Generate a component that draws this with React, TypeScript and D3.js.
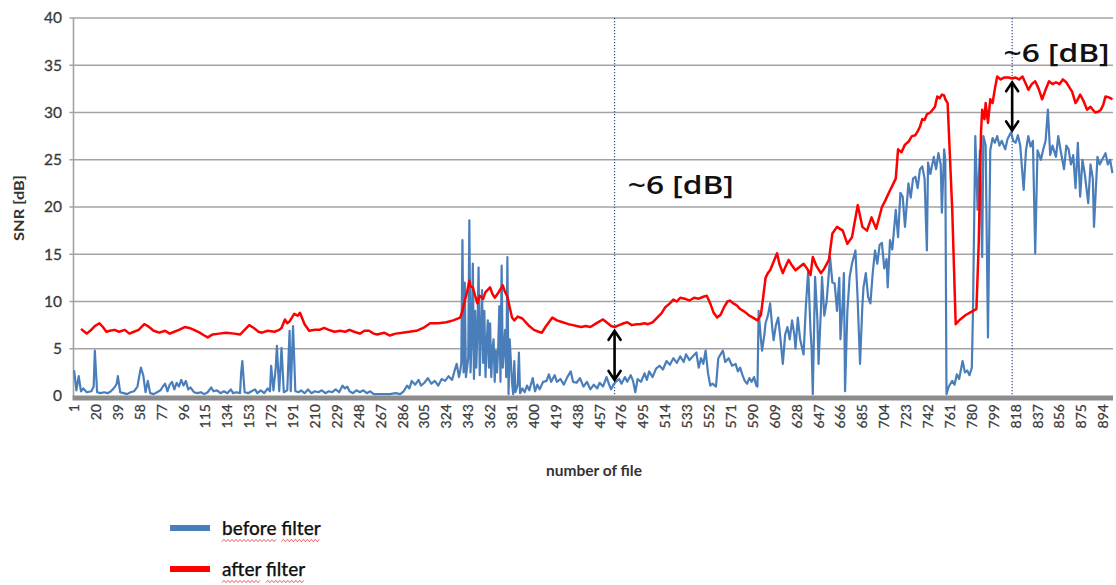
import React, { useLayoutEffect, useRef, useState } from 'react';
import * as d3 from 'd3';

const fileCount = 902;
const yTickValues = [0, 5, 10, 15, 20, 25, 30, 35, 40];
const xTickFiles = d3.range(1, fileCount + 1, 19);
const seriesNames = ['before filter', 'after filter'];
const seriesColors = ['#4a7ebb', '#ff0000'];

// [file number, SNR dB]
const beforeFilter: [number, number][] = [
  [1,2.7],[3,0.6],[5,2.1],[7,0.5],[9,0.8],[12,0.4],[16,0.5],[18,1.0],[19,4.8],[21,0.4],[24,0.3],[27,0.4],[30,0.3],[33,0.5],[36,0.9],[38,1.3],[39,2.1],[41,0.4],[44,0.3],[47,0.2],[50,0.4],[53,0.5],[56,1.0],[58,2.4],[59,3.0],[61,2.2],[63,0.4],[65,1.6],[67,0.3],[70,0.2],[73,0.4],[76,0.6],[78,1.0],[80,1.3],[82,0.5],[84,1.2],[86,1.5],[88,0.7],[90,1.4],[92,1.0],[94,1.7],[96,1.1],[98,1.6],[100,0.7],[102,0.9],[105,0.4],[108,0.3],[111,0.4],[114,0.2],[117,0.4],[120,0.9],[122,0.5],[125,0.6],[128,0.3],[131,0.5],[134,0.3],[137,0.7],[139,0.3],[142,0.4],[145,0.3],[146,2.5],[147,3.7],[149,0.4],[152,0.3],[155,0.5],[158,0.7],[160,0.3],[163,0.6],[166,0.3],[169,0.8],[171,0.5],[172,3.2],[174,0.6],[176,3.0],[177,5.3],[179,0.5],[181,5.1],[183,0.4],[186,0.6],[188,6.9],[189,0.5],[191,7.4],[193,0.5],[196,0.4],[198,0.6],[201,0.3],[204,0.7],[207,0.3],[210,0.5],[213,0.4],[216,0.6],[219,0.3],[222,0.5],[225,0.4],[228,0.7],[231,0.4],[234,1.1],[236,0.8],[238,1.0],[240,0.5],[243,0.3],[246,0.6],[249,0.4],[252,0.6],[255,0.3],[258,0.5],[261,0.2],[265,0.2],[270,0.2],[275,0.2],[280,0.3],[284,0.2],[287,0.5],[290,1.1],[292,0.8],[294,1.6],[297,1.2],[300,1.7],[302,1.1],[305,1.4],[308,1.9],[311,1.3],[314,1.6],[317,1.1],[320,1.8],[323,1.6],[326,2.1],[329,1.7],[331,2.6],[333,3.4],[335,2.0],[336,2.6],[337,3.5],[338,16.5],[339,2.5],[340,12.0],[341,2.0],[343,4.0],[344,18.6],[345,2.5],[346,6.0],[347,14.0],[348,1.8],[349,9.0],[350,3.0],[351,7.0],[352,13.6],[353,2.2],[354,6.5],[355,11.2],[356,3.5],[357,9.0],[358,2.0],[359,5.5],[360,8.0],[361,3.0],[362,7.7],[363,2.0],[364,5.0],[365,6.0],[366,1.5],[367,4.8],[368,2.5],[369,5.0],[370,9.5],[371,1.5],[372,13.8],[373,3.0],[374,5.0],[375,7.0],[376,2.0],[377,14.7],[378,0.2],[379,6.0],[380,3.7],[381,1.5],[382,0.2],[383,3.7],[384,0.4],[386,1.2],[387,4.6],[388,0.3],[390,0.8],[392,0.4],[394,1.1],[396,0.6],[399,1.9],[401,0.5],[403,1.2],[405,0.7],[408,1.5],[411,1.6],[413,2.3],[415,1.5],[418,2.2],[420,1.5],[423,1.8],[426,1.2],[429,2.0],[432,2.6],[434,1.5],[437,1.4],[440,1.9],[443,1.0],[446,1.5],[449,0.7],[452,1.2],[455,0.8],[457,1.4],[460,1.0],[463,2.0],[465,1.3],[467,0.7],[469,1.2],[471,1.5],[474,1.8],[476,1.3],[479,2.0],[481,1.5],[484,2.2],[486,1.6],[488,0.4],[490,1.8],[493,1.5],[496,2.4],[498,1.7],[500,2.6],[503,2.0],[506,2.9],[509,3.2],[512,2.8],[515,3.7],[518,3.3],[521,4.0],[524,3.5],[527,4.2],[530,3.6],[532,4.4],[535,3.8],[538,4.2],[541,4.6],[543,3.0],[545,4.0],[547,3.4],[549,4.8],[551,2.5],[553,1.1],[555,1.3],[558,1.0],[560,4.0],[562,4.4],[564,4.8],[566,3.6],[569,4.0],[572,3.2],[575,3.4],[577,2.6],[579,3.0],[581,2.2],[583,1.6],[585,1.3],[587,1.9],[589,1.5],[591,2.0],[593,1.1],[594,1.0],[595,9.0],[597,6.0],[598,4.8],[600,6.5],[601,7.7],[603,8.5],[605,9.8],[607,7.0],[608,5.9],[610,7.5],[612,8.3],[614,6.0],[616,3.4],[618,6.5],[620,7.3],[622,6.0],[624,8.0],[626,6.5],[627,5.0],[629,8.3],[631,6.0],[634,4.4],[636,9.5],[638,13.3],[640,7.0],[641,5.0],[642,0.2],[644,12.6],[646,8.0],[647,3.4],[649,9.0],[650,12.6],[652,8.5],[654,10.0],[657,14.7],[659,12.0],[661,11.9],[663,9.0],[665,12.5],[666,6.0],[668,10.0],[669,13.0],[670,0.5],[672,9.0],[674,12.6],[676,14.0],[679,15.4],[681,10.0],[683,3.4],[685,9.5],[686,11.5],[688,13.0],[690,10.5],[692,9.8],[694,13.0],[696,15.4],[698,14.0],[700,16.0],[702,16.2],[704,13.5],[706,14.5],[707,11.5],[709,16.5],[711,15.5],[713,18.3],[714,19.7],[716,16.8],[718,21.5],[720,21.1],[722,17.9],[725,22.5],[727,21.0],[729,23.0],[731,23.2],[733,22.0],[735,24.0],[737,24.3],[739,23.0],[741,15.4],[742,24.7],[744,23.5],[747,25.3],[749,24.0],[751,25.7],[753,24.5],[754,19.4],[756,26.1],[757,25.0],[758,0.2],[760,1.0],[763,1.6],[765,1.2],[767,2.3],[769,1.8],[772,3.7],[774,2.5],[776,2.7],[778,2.2],[780,3.0],[781,9.0],[783,27.5],[785,19.7],[787,26.0],[789,14.7],[790,27.5],[792,26.5],[794,6.2],[796,26.0],[798,27.3],[800,26.8],[802,27.5],[804,26.5],[806,27.0],[809,26.1],[811,27.2],[814,27.9],[816,27.0],[818,26.8],[820,27.6],[822,26.5],[825,21.8],[827,26.0],[829,27.5],[831,26.4],[833,27.0],[835,15.1],[837,26.0],[840,25.0],[842,26.1],[844,27.0],[846,30.3],[848,25.5],[850,26.5],[853,25.3],[855,27.5],[857,26.0],[860,24.0],[862,26.5],[864,26.1],[866,24.5],[868,25.5],[870,22.0],[872,26.8],[874,21.1],[876,25.0],[878,23.5],[881,20.4],[883,24.5],[885,23.0],[886,17.9],[889,25.3],[891,24.5],[893,25.0],[896,25.7],[898,24.5],[900,25.0],[902,23.6]
];

const afterFilter: [number, number][] = [
  [7,7.1],[10,6.8],[12,6.6],[15,6.9],[19,7.4],[23,7.7],[26,7.3],[29,6.8],[32,6.9],[36,7.0],[40,6.8],[45,7.0],[49,6.6],[53,6.8],[57,7.0],[62,7.6],[65,7.4],[70,6.9],[75,6.7],[80,6.9],[84,6.6],[88,6.8],[92,7.0],[97,7.3],[101,7.2],[105,7.0],[110,6.7],[114,6.4],[117,6.2],[121,6.5],[127,6.6],[133,6.7],[140,6.6],[145,6.5],[149,7.0],[153,7.5],[157,7.2],[161,6.8],[164,6.7],[169,6.9],[175,6.8],[179,7.0],[181,7.2],[184,8.1],[186,7.7],[188,7.9],[190,8.3],[192,8.7],[195,8.5],[197,8.8],[199,8.2],[201,7.6],[205,6.9],[210,7.0],[214,7.0],[218,7.2],[222,7.0],[227,6.8],[232,6.9],[236,6.8],[240,7.0],[244,6.8],[249,6.6],[253,6.9],[257,6.9],[261,6.6],[264,6.5],[270,6.7],[275,6.4],[280,6.6],[286,6.7],[292,6.8],[298,6.9],[304,7.2],[310,7.7],[317,7.7],[324,7.8],[330,8.0],[336,8.3],[338,9.0],[340,10.1],[342,11.0],[344,12.2],[345,11.6],[347,11.5],[349,10.6],[351,9.8],[353,10.6],[356,10.3],[358,11.0],[362,11.5],[364,10.8],[366,10.4],[369,10.9],[371,11.3],[373,11.7],[375,11.0],[377,10.5],[379,9.4],[381,8.3],[383,8.0],[386,8.4],[390,8.2],[393,7.8],[396,7.4],[400,7.0],[404,6.8],[407,6.7],[410,7.3],[413,7.8],[416,8.3],[420,8.0],[425,7.8],[430,7.6],[434,7.5],[437,7.4],[441,7.3],[445,7.4],[449,7.3],[453,7.6],[457,7.9],[460,8.1],[463,7.8],[467,7.4],[470,7.3],[474,7.5],[478,7.7],[481,7.8],[485,7.5],[489,7.6],[492,7.6],[496,7.7],[499,7.6],[503,7.8],[507,8.3],[511,8.8],[514,9.4],[518,9.8],[521,10.2],[524,10.0],[527,10.4],[531,10.3],[535,10.1],[539,10.4],[543,10.3],[547,10.5],[550,10.6],[553,9.8],[556,8.8],[559,8.3],[562,8.6],[565,9.4],[568,10.0],[570,10.1],[573,9.8],[576,9.6],[579,9.2],[583,8.9],[587,8.5],[590,8.3],[594,8.0],[597,8.6],[599,10.5],[601,12.5],[603,13.0],[605,13.3],[608,14.2],[611,15.1],[613,14.0],[616,13.0],[618,13.6],[621,14.4],[624,13.8],[627,13.3],[630,13.6],[634,14.0],[637,13.5],[640,12.8],[642,14.7],[645,13.8],[649,13.0],[652,13.5],[656,14.4],[659,17.2],[663,17.9],[668,17.5],[672,16.1],[676,16.8],[681,20.2],[685,17.9],[689,17.5],[693,18.9],[697,17.7],[702,20.0],[705,20.7],[708,21.5],[712,22.5],[714,23.0],[716,26.1],[719,25.8],[722,26.6],[725,26.9],[728,27.5],[731,27.6],[733,28.0],[735,28.5],[737,29.3],[739,29.2],[741,29.8],[744,30.0],[746,30.3],[748,30.6],[750,31.7],[752,31.5],[754,31.9],[756,31.8],[757,31.4],[759,31.0],[763,19.7],[766,7.6],[769,8.0],[772,8.3],[775,8.6],[778,8.8],[781,9.0],[784,9.2],[786,16.2],[788,28.0],[789,30.3],[791,29.3],[792,31.0],[794,28.9],[796,31.4],[798,31.0],[800,32.5],[802,33.8],[805,33.5],[808,33.7],[812,33.7],[815,33.6],[818,33.7],[821,33.5],[824,33.8],[827,33.0],[829,32.4],[832,33.0],[835,33.3],[838,32.5],[841,31.4],[844,32.4],[847,33.3],[850,33.0],[853,33.2],[856,33.0],[859,33.5],[862,33.2],[864,32.8],[867,32.2],[870,31.0],[872,31.4],[874,31.9],[877,31.2],[880,30.3],[883,30.6],[885,30.3],[887,30.0],[890,30.1],[892,30.3],[894,30.8],[896,31.7],[899,31.6],[902,31.4]
];

const markerFiles = [470, 815];
const gapArrowFiles = [470, 815];
const gapArrowTop = [6.9, 33.2];
const gapArrowBottom = [1.7, 28.1];
const gapLabelText = ['~6 [dB]', '~6 [dB]'];
const gapLabelFile = [481.5, 807.5];
const gapLabelValue = [21.4, 35.3];

const W = 1116;
const H = 585;
const plotLeft = 73.5;
const plotRight = 1113;
const plotTop = 18;
const plotBottom = 396;

const x = d3.scaleLinear().domain([0.5, fileCount + 0.5]).range([plotLeft, plotRight]);
const y = d3.scaleLinear().domain([0, 40]).range([plotBottom, plotTop]);
const line = d3.line<[number, number]>().x(d => x(d[0])).y(d => y(d[1]));

function zigzag(x0: number, x1: number, yy: number): string {
  const pts: [number, number][] = [];
  let i = 0;
  for (let xx = x0; xx <= x1; xx += 2) {
    pts.push([xx, yy + (i % 2 === 0 ? 1.2 : -1.2)]);
    i++;
  }
  return d3.line()(pts) || '';
}

function LegendItem({ i, ly }: { i: number; ly: number }) {
  const ref = useRef<SVGTextElement>(null);
  const [words, setWords] = useState<[number, number][]>([]);
  useLayoutEffect(() => {
    const el = ref.current;
    if (!el) return;
    const txt = seriesNames[i];
    const out: [number, number][] = [];
    let start = 0;
    txt.split(' ').forEach(w => {
      try {
        const a = start === 0 ? 0 : el.getSubStringLength(0, start);
        const b = el.getSubStringLength(0, start + w.length);
        out.push([a, b]);
      } catch (e) { /* ignore */ }
      start += w.length + 1;
    });
    setWords(out);
  }, [i]);
  const tx = 222;
  return (
    <g>
      <line x1={170} x2={210} y1={ly} y2={ly} stroke={seriesColors[i]} strokeWidth={6} />
      <text ref={ref} x={tx} y={ly + 6.5} fontFamily="Lato, 'Open Sans', sans-serif" fontWeight={500} fontSize={19} fill="#111" stroke="#111" strokeWidth={0.25}>{seriesNames[i]}</text>
      {words.map((w, k) => (
        <path key={k} d={zigzag(tx + w[0], tx + w[1], ly + 12.5)} fill="none" stroke="#e04040" strokeWidth={0.8} />
      ))}
    </g>
  );
}

export default function App() {
  return (
    <svg width={W} height={H} style={{ position: 'absolute', left: 0, top: 0, background: '#fff' }}>
      {/* gridlines */}
      {yTickValues.filter(v => v > 0).map(v => (
        <line key={v} x1={plotLeft - 4} x2={plotRight} y1={y(v)} y2={y(v)} stroke="#a3a3a3" strokeWidth={1.6} />
      ))}
      <line x1={plotLeft} x2={plotLeft} y1={plotTop} y2={plotBottom} stroke="#a3a3a3" strokeWidth={1.6} />
      {/* y tick labels */}
      {yTickValues.map(v => (
        <text key={v} x={62} y={y(v)} dy="0.35em" textAnchor="end" fontFamily="Lato, 'Open Sans', sans-serif" fontSize={15.5} fill="#3a3a3a" stroke="#3a3a3a" strokeWidth={0.3}>{v}</text>
      ))}
      {/* x tick labels */}
      {xTickFiles.map(f => (
        <text key={f} transform={`translate(${x(f) + 5},404) rotate(-90)`} textAnchor="end" fontFamily="Lato, 'Open Sans', sans-serif" fontSize={14} fill="#3a3a3a" stroke="#3a3a3a" strokeWidth={0.25}>{f}</text>
      ))}
      {/* axis titles */}
      <text x={594} y={476} textAnchor="middle" fontFamily="Lato, 'Open Sans', sans-serif" fontWeight={700} fontSize={15.5} fill="#333">number of file</text>
      <text transform="translate(24,208) rotate(-90)" textAnchor="middle" fontFamily="Lato, 'Open Sans', sans-serif" fontWeight={700} fontSize={13} textLength={66} lengthAdjust="spacingAndGlyphs" fill="#333">SNR [dB]</text>
      {/* marker lines */}
      {markerFiles.map(f => (
        <line key={f} x1={x(f)} x2={x(f)} y1={plotTop} y2={plotBottom} stroke="#34508f" strokeWidth={1.2} strokeDasharray="1.3 1.7" />
      ))}
      {/* series */}
      <path d={line(beforeFilter) || ''} fill="none" stroke={seriesColors[0]} strokeWidth={2.2} strokeLinejoin="round" />
      <path d={line(afterFilter) || ''} fill="none" stroke={seriesColors[1]} strokeWidth={2.5} strokeLinejoin="round" />
      {/* baseline bar */}
      <rect x={plotLeft - 1} y={plotBottom - 0.5} width={plotRight - plotLeft + 1} height={5} fill="#8c8c8c" />
      {/* arrows */}
      {gapArrowFiles.map((f, i) => {
        const ax = x(f);
        const yt = y(gapArrowTop[i]);
        const yb = y(gapArrowBottom[i]);
        return (
          <g key={i} stroke="#000" strokeWidth={2.6} fill="none" strokeLinecap="round">
            <line x1={ax} x2={ax} y1={yt + 1} y2={yb - 1} />
            <path d={`M${ax - 6},${yt + 9} L${ax},${yt} L${ax + 6},${yt + 9}`} />
            <path d={`M${ax - 6},${yb - 9} L${ax},${yb} L${ax + 6},${yb - 9}`} />
          </g>
        );
      })}
      {/* annotations */}
      {gapLabelText.map((t, i) => (
        <text key={i} x={x(gapLabelFile[i])} y={y(gapLabelValue[i])} fontFamily="'Open Sans', Lato, sans-serif" fontWeight={600} fontSize={25} textLength={106} lengthAdjust="spacingAndGlyphs" fill="#111">{t}</text>
      ))}
      {/* legend */}
      <LegendItem i={0} ly={528} />
      <LegendItem i={1} ly={569} />
    </svg>
  );
}
